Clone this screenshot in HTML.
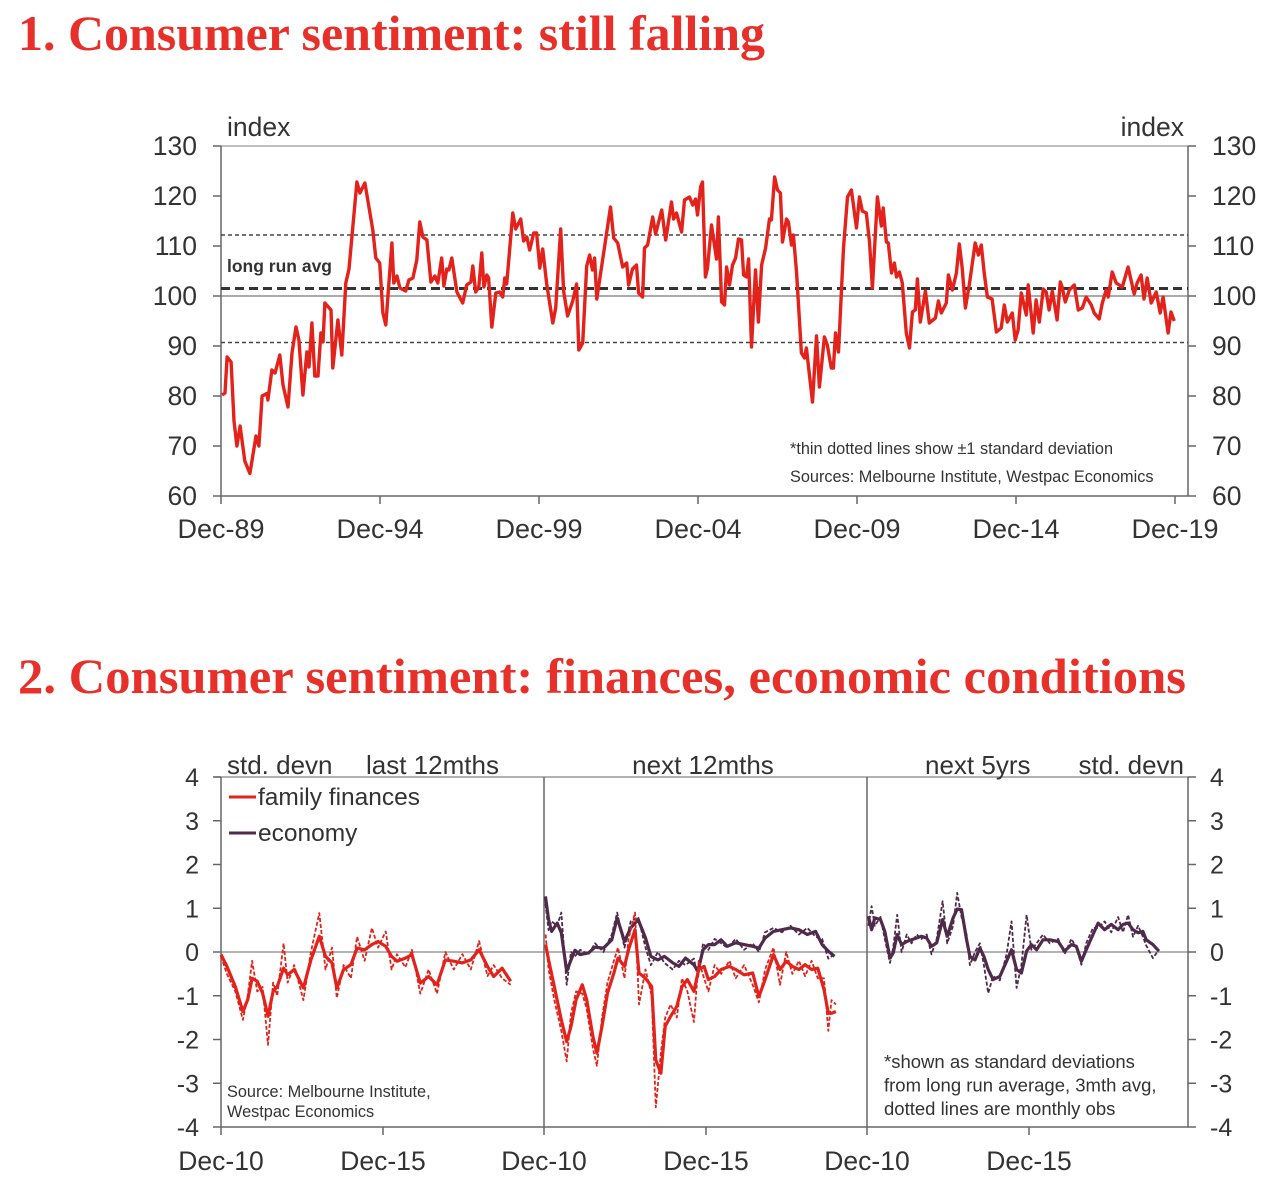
<!DOCTYPE html>
<html><head><meta charset="utf-8">
<style>
html,body{margin:0;padding:0;background:#fff;}
svg{display:block;}
text{font-family:"Liberation Sans",sans-serif;fill:#333;}
.ttl{font-family:"Liberation Serif",serif;font-weight:bold;fill:#e8302a;}
</style></head>
<body>
<svg id="root" width="1268" height="1193" xmlns="http://www.w3.org/2000/svg">
<text class="ttl" x="18" y="50" font-size="50" textLength="747" lengthAdjust="spacingAndGlyphs">1. Consumer sentiment: still falling</text>
<text class="ttl" x="18" y="693" font-size="50" textLength="1168" lengthAdjust="spacingAndGlyphs">2. Consumer sentiment: finances, economic conditions</text>
<g id="c1"></g>
<g id="c2"></g>
</svg>
<script>
// ===== Chart 1 data (months since Dec-89, index values) =====
const c1Months=[0.4,1.5,2.3,3.8,4.9,6.0,7.2,9.0,10.9,13.2,14.3,15.5,17.3,17.7,19.2,20.4,22.2,23.4,25.3,26.8,28.3,29.4,30.9,32.4,33.2,34.3,35.4,36.6,37.7,38.5,39.2,41.5,42.2,44.1,45.6,47.1,48.3,51.3,52.4,54.3,57.3,58.4,59.9,61.1,62.2,64.5,65.2,66.4,67.5,69.7,70.9,72.4,73.9,75.0,76.2,77.7,79.2,80.7,81.8,83.3,84.1,85.2,86.0,87.1,89.0,91.2,92.7,94.3,95.0,96.1,97.3,98.4,99.2,100.3,101.0,102.2,103.7,105.2,106.3,107.1,107.8,110.1,111.2,113.1,114.2,115.4,116.5,118.0,119.1,120.3,121.4,122.9,125.2,126.3,128.2,129.3,130.8,132.7,134.2,135.0,136.5,138.0,139.1,140.2,141.0,141.8,144.0,147.0,148.2,149.7,151.6,153.1,153.8,155.3,156.8,157.6,159.1,159.8,161.0,162.9,164.0,166.3,167.8,170.0,170.8,171.9,173.8,174.9,176.8,178.0,179.1,179.8,181.0,181.7,182.8,183.6,185.1,187.0,187.7,188.9,190.0,190.8,191.9,193.0,194.2,195.3,196.4,197.2,198.3,199.1,200.2,201.7,202.8,204.0,205.5,207.0,207.7,208.9,210.0,211.1,211.9,213.4,214.1,215.3,216.0,217.2,219.0,220.2,220.9,223.2,224.7,225.8,227.7,228.8,230.3,231.1,231.9,233.0,234.9,236.4,237.9,239.8,240.9,242.0,243.5,244.7,245.8,247.7,249.2,249.9,251.1,251.8,253.0,254.1,254.9,256.0,257.1,258.6,259.8,260.9,262.0,262.8,263.9,265.8,267.3,269.6,270.7,271.8,273.7,274.5,276.0,277.5,278.6,279.7,280.9,282.4,284.6,285.8,286.9,288.0,289.2,291.0,292.6,294.4,295.6,296.7,298.6,299.7,300.8,302.0,303.9,304.6,306.5,307.6,308.8,310.3,311.4,312.5,313.7,315.5,316.7,317.4,318.6,320.1,322.0,323.5,325.0,326.5,328.4,329.5,331.4,332.5,334.0,334.8,336.3,337.8,340.1,342.3,344.6,345.7,347.2,348.3,349.5,351.0,352.9,354.4,355.5,357.4,358.5,359.7];
const c1Values=[80.2,80.6,87.8,86.8,75,70,74,67,64.5,72,70,80,80.5,79.2,85.2,84.6,88.2,82.2,77.8,88.6,93.8,91.2,80.2,88.8,85.8,94.6,84,84,92.6,90.8,98.6,97.2,85.6,95.2,88.2,102.6,105.4,122.8,120.6,122.6,113.2,107.6,106.6,96.6,94.2,110.6,102.6,104,101.6,101,103.2,103.6,107.2,114.8,111.8,111.2,102.8,104,102.6,107.6,102,105.4,105.2,107.6,100.8,98.6,102.2,102.8,106,100.8,101.8,108.6,101.8,104.2,103.6,93.8,100.6,100.8,99.8,103.6,102.4,116.6,113.4,115.4,111,111.8,109.2,112.6,112.6,105.6,109.4,102.4,94.6,97.6,113.4,101,96,99,102.4,89.2,90.6,106,108.2,105.2,107.6,99.4,107.2,117.8,111.6,110.6,105.8,106.6,102.2,105.4,106.2,100.6,99.8,109.6,110.2,115.8,112.4,117.2,111.2,118.8,115.4,116.6,112.8,119.2,119.8,118.2,119.4,116.2,121.8,122.8,103.8,105.6,114.2,107.4,115.8,98.8,98.2,105.8,102.2,106.2,107.6,111.4,111.2,104.2,103.8,107.4,89.8,105.2,94.8,106.2,109.6,115.4,115.2,123.8,121.2,120.6,110.8,115.4,114.8,110.2,112.2,104.6,88.6,87.6,89.6,78.8,92,81.8,91.8,90.2,85.6,85.6,92.6,88.8,109.6,119.8,121.2,113.6,119.8,117,116.6,110.8,101.6,119.8,114,117.6,110.8,110.6,104.6,106.6,103.8,104.8,102.6,92.6,89.6,96.8,97.2,103.4,94.8,101,94.6,95.6,99,96.6,98.6,104.2,101.2,104.6,110.4,105.6,97.6,102.4,110.6,108.2,110.2,104.6,99.8,99.4,92.8,93.6,98.2,94.8,96.6,91.2,93.2,100.6,96.2,102.2,92.6,99.2,94.8,101.4,100.8,97.2,101,95.2,102.8,101.8,98.8,101.2,102.2,97.2,97.6,99.8,98.2,96.6,95.4,98.4,101.2,99.8,104.8,102.6,101.8,105.8,100.4,102.6,104.2,99.4,103.6,98.6,100.8,96.6,99.8,92.6,96.8,95];
const c1YTicks=[60,70,80,90,100,110,120,130];
const c1XLabels=["Dec-89","Dec-94","Dec-99","Dec-04","Dec-09","Dec-14","Dec-19"];
const c1XLabelMonths=[0,60,120,180,240,300,360];
const c1Avg=[101.5];
const c1Bands=[112.2,90.7];

// ===== Chart 2 data (months since Dec-10, std devs) =====
const p1Months=[0,2.2,5.3,8.1,9.9,11.5,13.4,15.4,17.4,19.3,20.8,23.2,24.7,27.1,30.5,33.3,36.4,38.7,41.1,42.9,45.4,48.1,50.4,53.2,55.9,58.2,61.0,63.2,65.2,68.3,70.7,73.8,76.9,80.0,83.1,86.2,89.4,92.5,95.6,98.7,101.0,104.1,107.3];
const p1FamSolid=[-0.06,-0.33,-0.79,-1.36,-1.09,-0.6,-0.67,-0.94,-1.47,-0.9,-0.79,-0.37,-0.52,-0.4,-0.82,-0.18,0.36,-0.1,-0.25,-0.82,-0.4,-0.29,0.09,0.05,0.17,0.24,0.13,-0.1,-0.21,-0.14,-0.06,-0.71,-0.56,-0.75,-0.18,-0.21,-0.25,-0.18,0.05,-0.33,-0.56,-0.37,-0.67];
const p1FamDotted=[-0.1,-0.5,-0.9,-1.55,-1.0,-0.2,-0.9,-0.8,-2.12,-0.7,-1.0,0.2,-0.7,-0.3,-1.1,0.0,0.89,-0.4,0.1,-1.05,-0.3,-0.6,0.35,-0.2,0.55,0.1,0.47,-0.4,-0.05,-0.35,0.05,-0.95,-0.4,-0.95,0.0,-0.4,-0.05,-0.4,0.25,-0.55,-0.3,-0.6,-0.75];
const p2Months=[0.6,1.7,3.8,6.4,8.4,10.0,11.9,14.2,15.8,18.1,19.6,21.5,23.5,25.9,27.4,29.8,31.3,33.7,35.2,37.6,39.9,41.4,43.3,44.9,46.9,49.2,51.1,53.1,55.5,57.3,59.3,60.9,63.2,65.6,68.7,71.0,74.1,77.3,79.6,81.9,85.0,87.4,89.7,92.0,94.4,96.7,99.1,101.4,103.7,105.3,106.5,108.1];
const p2FamSolid=[0.17,-0.18,-0.79,-1.55,-2.05,-1.70,-1.09,-0.75,-1.09,-1.93,-2.31,-1.70,-0.94,-0.48,-0.14,-0.33,0.05,0.51,-0.48,-0.6,-0.79,-2.47,-2.77,-1.70,-1.47,-1.24,-0.79,-0.63,-0.9,-0.40,-0.33,-0.63,-0.56,-0.40,-0.33,-0.40,-0.52,-0.48,-1.02,-0.63,-0.06,-0.40,-0.21,-0.33,-0.40,-0.29,-0.40,-0.37,-0.86,-1.40,-1.40,-1.36];
const p2FamDotted=[0.4,-0.4,-1.1,-1.8,-2.5,-1.4,-0.9,-0.95,-1.3,-2.2,-2.6,-1.5,-0.7,-0.2,0.1,-0.6,0.3,0.9,-1.2,-0.4,-1.0,-3.55,-2.3,-1.5,-1.2,-1.5,-0.6,-0.9,-1.6,-0.2,-0.6,-0.9,-0.3,-0.5,-0.2,-0.6,-0.3,-0.75,-1.15,-0.4,0.1,-0.75,0.0,-0.5,-0.2,-0.55,-0.2,-0.6,-0.6,-1.8,-1.1,-1.2];
const p2EcoSolid=[1.27,0.74,0.47,0.66,0.44,-0.44,-0.18,0.04,-0.06,-0.02,0.11,0.09,0.28,0.78,0.24,0.55,0.74,0.32,-0.1,-0.18,-0.1,-0.25,-0.33,-0.14,-0.29,-0.44,0.05,0.17,0.17,0.28,0.13,0.21,0.17,0.13,0.09,0.32,0.47,0.51,0.55,0.51,0.40,0.47,0.17,0.02,-0.1];
const p2EcoDotted=[1.1,0.5,0.7,0.6,0.9,-0.75,0.0,-0.1,0.05,-0.05,0.2,0.0,0.4,0.9,0.1,0.7,0.8,0.1,-0.3,0.0,-0.25,-0.4,-0.2,-0.3,-0.15,-0.6,0.2,0.05,0.3,0.2,0.1,0.3,0.05,0.2,0.0,0.45,0.55,0.45,0.6,0.4,0.55,0.35,0.3,-0.15,-0.05];
const p2EcoMonths=[0.5,1.7,2.8,4.9,6.4,8.4,10.0,11.5,13.4,16.5,18.9,22.0,25.1,27.1,29.8,32.1,34.9,37.6,39.6,42.2,44.6,47.7,50.0,52.4,55.5,57.0,58.9,60.9,63.2,65.6,67.9,71.0,74.1,77.3,79.6,81.9,85.0,88.1,91.3,94.4,97.5,100.6,103.0,105.3,107.6];
const p3Months=[0.5,1.7,2.9,5.0,6.6,8.5,9.7,11.2,12.8,14.7,16.5,18.4,20.2,22.1,23.9,25.8,28.0,29.7,31.9,33.4,35.0,36.9,38.1,40.0,41.8,43.3,44.9,46.7,49.2,51.7,53.5,55.4,57.2,59.1,60.9,62.8,65.2,67.7,70.8,73.2,75.7,77.5,79.4,81.2,83.7,85.6,88.0,90.5,93.0,94.8,96.7,98.5,100.4,102.2,103.4,105.9,108.1];
const p3EcoSolid=[0.82,0.51,0.78,0.74,0.47,-0.14,-0.02,0.40,0.17,0.24,0.28,0.32,0.36,0.32,0.13,0.21,0.74,0.36,0.78,0.98,0.97,0.28,-0.1,-0.18,0.09,-0.1,-0.4,-0.63,-0.56,-0.21,0.05,-0.4,-0.48,0.02,0.17,0.05,0.28,0.28,0.24,0.02,0.17,0.13,-0.21,0.05,0.40,0.66,0.51,0.63,0.51,0.63,0.66,0.51,0.44,0.47,0.28,0.17,0.02];
const p3EcoDotted=[0.6,1.05,0.6,0.8,0.3,-0.25,0.1,0.85,0.0,0.4,0.2,0.4,0.3,0.4,-0.05,0.3,1.16,0.2,0.6,1.35,0.8,0.4,-0.3,0.0,0.2,-0.3,-0.94,-0.55,-0.65,-0.05,0.70,-0.82,-0.3,0.85,0.05,0.2,0.4,0.2,0.3,-0.05,0.3,0.1,-0.29,0.2,0.55,0.55,0.7,0.45,0.8,0.45,0.85,0.35,0.6,0.35,0.15,-0.14,0.05];
const c2YTicks=[-4,-3,-2,-1,0,1,2,3,4];
const c2XLabels=["Dec-10","Dec-15"];
const c2XLabelMonths=[0,60];

const NS="http://www.w3.org/2000/svg";
function mk(parent,tag,attrs,txt){const e=document.createElementNS(NS,tag);for(const k in attrs)e.setAttribute(k,attrs[k]);if(txt!==undefined)e.textContent=txt;parent.appendChild(e);return e;}
const RED="#e3231b", PUR="#4f2a4b", AX="#666";

// ---------- Chart 1 ----------
(function(){
const g=document.getElementById('c1');
const L=221,R=1188,T=146,B=496;
const ymin=60,ymax=130;
const xS=m=>L+m*(1175-221)/360;
const yS=v=>B-(v-ymin)*(B-T)/(ymax-ymin);
let e;
e=mk(g,'line',{x1:L,y1:T,x2:R,y2:T,stroke:'#aaa','stroke-width':1.5});

e=mk(g,'line',{x1:L,y1:T,x2:L,y2:B,stroke:AX,'stroke-width':1.5});

e=mk(g,'line',{x1:R,y1:T,x2:R,y2:B,stroke:AX,'stroke-width':1.5});

e=mk(g,'line',{x1:L,y1:B,x2:R,y2:B,stroke:AX,'stroke-width':1.5});

e=mk(g,'line',{x1:L,y1:yS(100),x2:R,y2:yS(100),stroke:'#777','stroke-width':1.2});

c1YTicks.forEach(v=>{
  let t=mk(g,'line',{x1:L-8,y1:yS(v),x2:L,y2:yS(v),stroke:AX,'stroke-width':1.5});
  
  t=mk(g,'line',{x1:R,y1:yS(v),x2:R+8,y2:yS(v),stroke:AX,'stroke-width':1.5});
  
  t=mk(g,'text',{x:197,y:yS(v)+9,'font-size':26.5,'text-anchor':'end'},String(v));
  
  t=mk(g,'text',{x:1212,y:yS(v)+9,'font-size':26.5},String(v));
  
});
c1XLabelMonths.forEach((m,i)=>{
  let t=mk(g,'line',{x1:xS(m),y1:B,x2:xS(m),y2:B+8,stroke:AX,'stroke-width':1.5});
  
  t=mk(g,'text',{x:xS(m),y:538,'font-size':27,'text-anchor':'middle'},c1XLabels[i]);
  
});
c1Bands.forEach(v=>{
  const t=mk(g,'line',{x1:L,y1:yS(v),x2:R,y2:yS(v),stroke:'#444','stroke-width':1.5,'stroke-dasharray':'4 3'});
  
});
e=mk(g,'line',{x1:L,y1:yS(c1Avg[0]),x2:R,y2:yS(c1Avg[0]),stroke:'#333','stroke-width':3,'stroke-dasharray':'9 5'});

e=mk(g,'text',{x:227,y:272,'font-size':17.5,'font-weight':'bold'},'long run avg');

e=mk(g,'text',{x:227,y:136,'font-size':26.5},'index');

e=mk(g,'text',{x:1184,y:136,'font-size':26.5,'text-anchor':'end'},'index');

e=mk(g,'text',{x:790,y:454,'font-size':16.3},'*thin dotted lines show \u00b11 standard deviation');

e=mk(g,'text',{x:790,y:482,'font-size':16.3},'Sources: Melbourne Institute, Westpac Economics');

const pts=c1Months.map((m,i)=>xS(m).toFixed(1)+','+yS(c1Values[i]).toFixed(1)).join(' ');
e=mk(g,'polyline',{points:pts,fill:'none',stroke:RED,'stroke-width':3.4,'stroke-linejoin':'round'});

})();

// ---------- Chart 2 ----------
(function(){
const g=document.getElementById('c2');
const T=777,B=1127,R=1188;
const panelL=[221,544,867];
const yS=v=>952-v*(B-T)/8;
const pxPerMonth=162/60;
let e;
e=mk(g,'line',{x1:215,y1:T,x2:R,y2:T,stroke:'#999','stroke-width':1.5});

e=mk(g,'line',{x1:221,y1:B,x2:R,y2:B,stroke:AX,'stroke-width':1.5});

e=mk(g,'line',{x1:221,y1:yS(0),x2:R,y2:yS(0),stroke:'#888','stroke-width':1.3});

[221,544,867,R].forEach(x=>{
  const t=mk(g,'line',{x1:x,y1:T,x2:x,y2:B,stroke:AX,'stroke-width':1.5});
  
});
c2YTicks.forEach(v=>{
  let t=mk(g,'line',{x1:213,y1:yS(v),x2:221,y2:yS(v),stroke:AX,'stroke-width':1.5});
  
  t=mk(g,'line',{x1:R,y1:yS(v),x2:R+8,y2:yS(v),stroke:AX,'stroke-width':1.5});
  
  t=mk(g,'text',{x:199,y:yS(v)+9,'font-size':25,'text-anchor':'end'},String(v));
  
  t=mk(g,'text',{x:1210,y:yS(v)+9,'font-size':25},String(v));
  
});
panelL.forEach(pl=>{
  c2XLabelMonths.forEach((m,i)=>{
    const x=pl+m*pxPerMonth;
    let t=mk(g,'line',{x1:x,y1:B,x2:x,y2:B+8,stroke:AX,'stroke-width':1.5});
    
    t=mk(g,'text',{x:x,y:1170,'font-size':26.5,'text-anchor':'middle'},c2XLabels[i]);
    
  });
});
function line(pl,months,vals,color,dotted,name){
  const pts=months.map((m,i)=>(pl+m*pxPerMonth).toFixed(1)+','+yS(vals[i]).toFixed(1)).join(' ');
  const a={points:pts,fill:'none',stroke:color,'stroke-linejoin':'round'};
  if(dotted){a['stroke-width']=1.8;a['stroke-dasharray']='4 2';}else{a['stroke-width']=3.2;}
  const l=mk(g,'polyline',a);
  
  
}
line(221,p1Months,p1FamDotted,RED,true,'family-finances-last12-monthly');
line(221,p1Months,p1FamSolid,RED,false,'family-finances-last12-3mth');
line(544,p2EcoMonths,p2EcoDotted,PUR,true,'economy-next12-monthly');
line(544,p2EcoMonths,p2EcoSolid,PUR,false,'economy-next12-3mth');
line(544,p2Months,p2FamDotted,RED,true,'family-finances-next12-monthly');
line(544,p2Months,p2FamSolid,RED,false,'family-finances-next12-3mth');
line(867,p3Months,p3EcoDotted,PUR,true,'economy-next5yrs-monthly');
line(867,p3Months,p3EcoSolid,PUR,false,'economy-next5yrs-3mth');
const heads=[[227,'start','std. devn'],[366,'start','last 12mths'],[703,'middle','next 12mths'],[925,'start','next 5yrs'],[1184,'end','std. devn']];
heads.forEach(h=>{
  const t=mk(g,'text',{x:h[0],y:774,'font-size':26,'text-anchor':h[1]},h[2]);
  
});
e=mk(g,'line',{x1:229,y1:797,x2:256,y2:797,stroke:RED,'stroke-width':3});

e=mk(g,'text',{x:258,y:805,'font-size':24.5},'family finances');

e=mk(g,'line',{x1:229,y1:833,x2:256,y2:833,stroke:PUR,'stroke-width':3});

e=mk(g,'text',{x:258,y:841,'font-size':24.5},'economy');

e=mk(g,'text',{x:227,y:1097,'font-size':16.3},'Source: Melbourne Institute,');

e=mk(g,'text',{x:227,y:1117,'font-size':16.3},'Westpac Economics');

['*shown as standard deviations','from long run average, 3mth avg,','dotted lines are monthly obs'].forEach((s,i)=>{
  const t=mk(g,'text',{x:884,y:1068+i*23.5,'font-size':18.5},s);
  
});
})();
</script>
</body></html>
